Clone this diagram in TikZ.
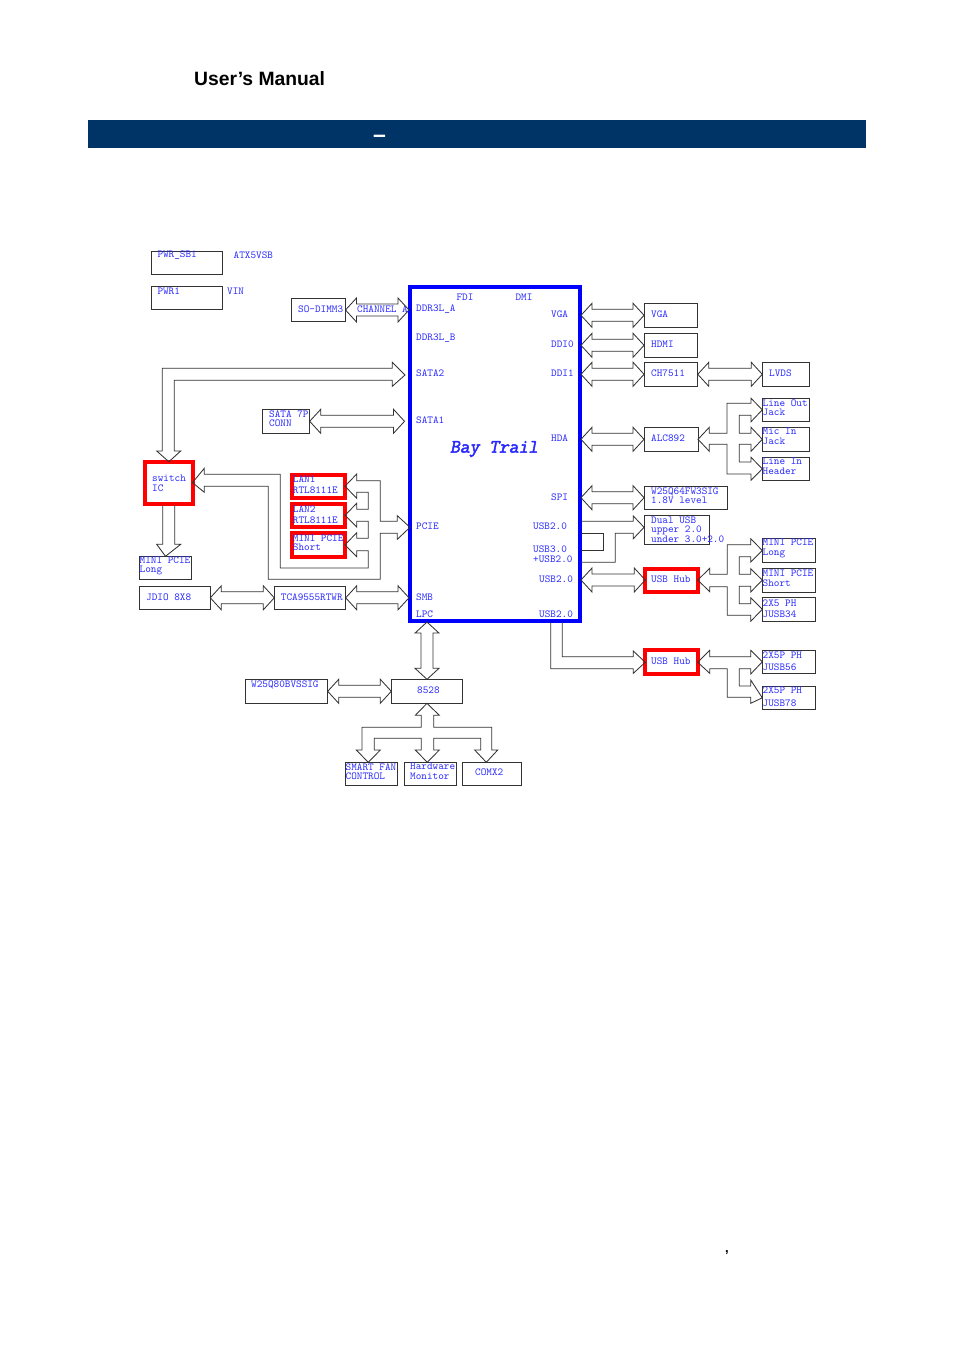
\documentclass[tikz,border=0pt]{standalone}
\usepackage{fontspec}
\usepackage{tikz}
\usetikzlibrary{calc}
\setmainfont{Liberation Sans}
\newfontfamily\bayfont[FakeBold=2.6,FakeSlant=0.2]{Latin Modern Mono}
\definecolor{band}{HTML}{003366}
\definecolor{schblue}{HTML}{2A2AFF}
\definecolor{schred}{HTML}{FF0000}
\tikzset{
  blk/.style={draw=black!80, line width=.85pt, inner sep=0, outer sep=0},
  redblk/.style={draw=schred, line width=4pt, inner sep=0, outer sep=0},
  chipblk/.style={draw=blue, line width=4pt, inner sep=0, outer sep=1pt},
  txt/.style={anchor=west, inner sep=0, align=left, text=schblue, font=\ttfamily\fontsize{10.7}{9.5}\selectfont},
  fat/.style={draw=black!80, line width=.85pt, line join=miter}
}
% fat two way arrows
\newcommand{\fatx}[2]{\draw[fat] (#1) -- ++(11,-12) -- ++(0,6) -- ($(#2)+(-11,-6)$) -- ++(0,-6) -- (#2) -- ++(-11,12) -- ++(0,-6) -- ($(#1)+(11,6)$) -- ++(0,6) -- cycle;}
\newcommand{\faty}[2]{\draw[fat] (#1) -- ++(12,11) -- ++(-6,0) -- ($(#2)+(6,-11)$) -- ++(6,0) -- (#2) -- ++(-12,-11) -- ++(6,0) -- ($(#1)+(-6,11)$) -- ++(-6,0) -- cycle;}
\begin{document}
\begin{tikzpicture}[x=1pt,y=-1pt]
\useasboundingbox (0,0) rectangle (954,1350);
% page head
\node[anchor=west, inner sep=0, font=\fontsize{19.3}{22}\selectfont\bfseries] (manual) at (194,79) {User’s Manual};
\node[fill=band, inner sep=0, outer sep=0, minimum width=778, minimum height=28] (title) at (477,134) {};
\node[inner sep=0, text=white, font=\fontsize{23}{23}\selectfont\bfseries] (titledash) at (379.5,139) {–};
\node[inner sep=0, font=\fontsize{13}{13}\selectfont\bfseries] (pagemark) at (727,1253) {,};
% chip
\node[chipblk, minimum width=170, minimum height=334.5] (chip) at (495,453.8) {};
\node[txt, anchor=center] (fdi) at (465,297) {FDI};
\node[txt, anchor=center] (dmi) at (524,297) {DMI};
\node[txt] (ddra) at (416,309) {DDR3L\_A};
\node[txt] (ddrb) at (416,338) {DDR3L\_B};
\node[txt] (sata2) at (416,373) {SATA2};
\node[txt] (sata1) at (416,420) {SATA1};
\node[txt] (pcie) at (416,526) {PCIE};
\node[txt] (smb) at (416,597) {SMB};
\node[txt] (lpc) at (416,614) {LPC};
\node[txt] (pinvga) at (551,314) {VGA};
\node[txt] (pinddia) at (551,344) {DDI0};
\node[txt] (pinddib) at (551,373) {DDI1};
\node[txt] (pinhda) at (551,438) {HDA};
\node[txt] (pinspi) at (551,497) {SPI};
\node[txt] (pinusba) at (533,526) {USB2.0};
\node[txt] (pinusbb) at (533,549) {USB3.0};
\node[txt] (pinusbc) at (533,559) {+USB2.0};
\node[txt] (pinusbd) at (539,579) {USB2.0};
\node[txt] (pinusbe) at (539,614) {USB2.0};
\node[txt, anchor=center, font=\bayfont\fontsize{19}{19}\selectfont] (baytrail) at (494,449) {Bay Trail};
% left side
\node[blk, minimum width=71, minimum height=23] (pwrsb) at (186.5,262.5) {};
\node[txt] (pwrsbt) at (157.3,255) {PWR\_SB1};
\node[txt] (atx) at (233.5,255) {ATX5VSB};
\node[blk, minimum width=71, minimum height=23] (pwr) at (186.5,297.5) {};
\node[txt] (pwrt) at (157.3,291) {PWR1};
\node[txt] (vin) at (227,291) {VIN};
\node[blk, minimum width=54, minimum height=23] (sodimm) at (318.5,310) {};
\node[txt] (sodimmt) at (298,309) {SO-DIMM3};
\node[txt] (channel) at (357,309) {CHANNEL A};
\node[blk, minimum width=47.4, minimum height=24] (satacon) at (286,421.3) {};
\node[txt] (sataconT) at (269,418.5) {SATA 7P\\CONN};
\node[redblk, minimum width=47.2, minimum height=41.8] (switch) at (168.9,482.6) {};
\node[txt] (switcht) at (152,483.5) {switch\\IC};
\node[blk, minimum width=52.4, minimum height=23] (mlongl) at (165.5,567.8) {};
\node[txt] (mlonglt) at (139.5,566) {MINI PCIE\\Long};
\node[blk, minimum width=71, minimum height=23] (jdio) at (174.8,597.8) {};
\node[txt] (jdiot) at (146,597) {JDIO 8X8};
\node[blk, minimum width=71.4, minimum height=23] (tca) at (310,597.8) {};
\node[txt] (tcat) at (280.7,597) {TCA9555RTWR};
\node[redblk, minimum width=53, minimum height=23.3] (lana) at (318.5,486.2) {};
\node[txt] (lanat) at (292.7,484.5) {LAN1\\[1.5pt]RTL8111E};
\node[redblk, minimum width=53, minimum height=23] (lanb) at (318.5,515.3) {};
\node[txt] (lanbt) at (292.7,514.5) {LAN2\\[1.5pt]RTL8111E};
\node[redblk, minimum width=53, minimum height=23.7] (mshortl) at (318.5,544.9) {};
\node[txt] (mshortlt) at (292.7,542.5) {MINI PCIE\\Short};
% bottom
\node[blk, minimum width=82.4, minimum height=24] (flash) at (286.5,691.3) {};
\node[txt] (flasht) at (251,685) {W25Q80BVSSIG};
\node[blk, minimum width=71.4, minimum height=24] (sio) at (427,691.3) {};
\node[txt] (siot) at (417,690) {8528};
\node[blk, minimum width=52.4, minimum height=23] (fan) at (371.5,773.8) {};
\node[txt] (fant) at (345.5,771.5) {SMART FAN\\CONTROL};
\node[blk, minimum width=52.4, minimum height=23] (hwmon) at (430.5,773.8) {};
\node[txt] (hwmont) at (410,771.5) {Hardware\\Monitor};
\node[blk, minimum width=59, minimum height=23] (comx) at (491.8,773.8) {};
\node[txt] (comxt) at (475,772.6) {COMX2};
% right side
\node[blk, minimum width=53.7, minimum height=24] (vga) at (670.9,315.3) {};
\node[txt] (vgat) at (651,314) {VGA};
\node[blk, minimum width=53.7, minimum height=24] (hdmi) at (670.9,345.3) {};
\node[txt] (hdmit) at (651,344) {HDMI};
\node[blk, minimum width=53.7, minimum height=24] (ch) at (670.9,374.3) {};
\node[txt] (cht) at (651,373) {CH7511};
\node[blk, minimum width=47, minimum height=24] (lvds) at (785.8,374.3) {};
\node[txt] (lvdst) at (769,373) {LVDS};
\node[blk, minimum width=54, minimum height=24] (alc) at (671,439.3) {};
\node[txt] (alct) at (651,438) {ALC892};
\node[blk, minimum width=47, minimum height=23] (lineout) at (785.8,409.8) {};
\node[txt] (lineoutt) at (762.5,407.5) {Line Out\\Jack};
\node[blk, minimum width=47, minimum height=24] (micin) at (785.8,439.3) {};
\node[txt] (micint) at (762.5,436.5) {Mic In\\Jack};
\node[blk, minimum width=47, minimum height=23] (linein) at (785.8,468.8) {};
\node[txt] (lineint) at (762.5,466.2) {Line In\\Header};
\node[blk, minimum width=83.3, minimum height=23.3] (spiflash) at (685.7,497.7) {};
\node[txt] (spiflasht) at (651,495.5) {W25Q64FW3SIG\\1.8V level};
\node[blk, minimum width=65.7, minimum height=29] (dual) at (676.9,529.8) {};
\node[txt] (dualt) at (651,529.5) {Dual USB\\upper 2.0\\under 3.0+2.0};
\node[redblk, minimum width=52.5, minimum height=23] (huba) at (671.5,580) {};
\node[txt] (hubat) at (651,579) {USB Hub};
\node[redblk, minimum width=52.5, minimum height=24] (hubb) at (671.5,662.3) {};
\node[txt] (hubbt) at (651,661) {USB Hub};
\node[blk, minimum width=53.4, minimum height=23.6] (mlong) at (789,550.5) {};
\node[txt] (mlongt) at (762.5,548.5) {MINI PCIE\\Long};
\node[blk, minimum width=53.4, minimum height=23.7] (mshort) at (789,580.1) {};
\node[txt] (mshortt) at (762.5,578) {MINI PCIE\\Short};
\node[blk, minimum width=53.4, minimum height=24] (jusba) at (789,609.3) {};
\node[txt] (jusbat) at (762.5,608.5) {2X5 PH\\[1.5pt]JUSB34};
\node[blk, minimum width=53.4, minimum height=23] (jusbb) at (789,661.8) {};
\node[txt] (jusbbt) at (762.5,661) {2X5P PH\\[2.5pt]JUSB56};
\node[blk, minimum width=53.4, minimum height=23] (jusbc) at (789,697.8) {};
\node[txt] (jusbct) at (762.5,696.5) {2X5P PH\\[3.5pt]JUSB78};
% straight arrows
\coordinate (satapin) at (404.5,421.3);
\fatx{sodimm.east}{chip.west |- sodimm.east}
\fatx{satacon.east}{satapin}
\fatx{jdio.east}{tca.west}
\fatx{tca.east}{chip.west |- tca.east}
\fatx{flash.east}{sio.west}
\fatx{chip.east |- vga.west}{vga.west}
\fatx{chip.east |- hdmi.west}{hdmi.west}
\fatx{chip.east |- ch.west}{ch.west}
\fatx{ch.east}{lvds.west}
\fatx{chip.east |- alc.west}{alc.west}
\fatx{chip.east |- spiflash.west}{spiflash.west}
\fatx{chip.east |- huba.west}{huba.west}
\faty{chip.south -| sio.north}{sio.north}
% bent arrows
\draw[fat] (switch.north) -- (156.7,451) -- (162.3,451) -- (162.3,368.3) -- (392.3,368.3) -- (392.3,362.3) -- (405,375) -- (392.3,386.3) -- (392.3,380.3) -- (174.3,380.3) -- (174.3,451) -- (180.7,451) -- cycle;
\draw[fat] (162.7,505) -- (162.7,544.3) -- (156.7,544.3) -- (mlongl.north) -- (180.7,544.3) -- (174.7,544.3) -- (174.7,505);
\draw[fat] (410,527.3) -- (397.3,515.7) -- (397.3,521.3) -- (380.3,521.3) -- (380.3,480.7) -- (356.7,480.7) -- (356.7,474) -- (lana.east) -- (356.7,498.3) -- (356.7,492.3) -- (368.3,492.3) -- (368.3,509.3) -- (356.7,509.3) -- (356.7,503.3) -- (lanb.east) -- (356.7,527) -- (356.7,521.3) -- (368.3,521.3) -- (368.3,538.3) -- (356.7,538.3) -- (356.7,532.7) -- (mshortl.east) -- (356.7,556.7) -- (356.7,550.7) -- (368.3,550.7) -- (368.3,568) -- (280.3,568) -- (280.3,474.3) -- (204.3,474.3) -- (204.3,468.3) -- (switch.east) -- (204.3,492.3) -- (204.3,486.3) -- (268.3,486.3) -- (268.3,579.3) -- (380.3,579.3) -- (380.3,533.3) -- (397.3,533.3) -- (397.3,539.3) -- cycle;
\draw[fat] (alc.east) -- (709.3,427.3) -- (709.3,433.3) -- (727,433.3) -- (727,403.3) -- (751,403.3) -- (751,398.3) -- (lineout.west) -- (751,421.7) -- (751,415.3) -- (739.3,415.3) -- (739.3,433.3) -- (751,433.3) -- (751,427.3) -- (micin.west) -- (751,451.3) -- (751,444.3) -- (739.3,444.3) -- (739.3,462) -- (751,462) -- (751,457.3) -- (linein.west) -- (751,480.3) -- (751,474) -- (727,474) -- (727,444.3) -- (709.3,444.3) -- (709.3,451.3) -- cycle;
\draw[fat] (chip.east |- 0,521.3) -- (633.3,521.3) -- (633.3,516) -- (dual.west |- 0,527.3) -- (633.3,538.7) -- (633.3,533.3) -- (615.3,533.3) -- (615.3,562.3) -- (chip.east |- 0,562.3);
\draw[fat] (chip.east |- 0,533.3) -- (603.3,533.3) -- (603.3,550.3) -- (chip.east |- 0,550.3);
\draw[fat] (huba.east) -- (709.7,568.3) -- (709.7,574.3) -- (727.3,574.3) -- (727.3,544.7) -- (750.7,544.7) -- (750.7,538.7) -- (mlong.west) -- (750.7,562) -- (750.7,556.7) -- (739.3,556.7) -- (739.3,574.3) -- (750.7,574.3) -- (750.7,568.7) -- (mshort.west) -- (750.7,592) -- (750.7,586.3) -- (739.3,586.3) -- (739.3,603.7) -- (750.7,603.7) -- (750.7,597.7) -- (jusba.west) -- (750.7,621.3) -- (750.7,615.3) -- (727.3,615.3) -- (727.3,586.7) -- (709.7,586.7) -- (709.7,591.7) -- cycle;
\draw[fat] (562.3,0 |- chip.south) -- (562.3,656.7) -- (633.3,656.7) -- (633.3,651) -- (hubb.west) -- (633.3,673.3) -- (633.3,668.7) -- (550.7,668.7) -- (550.7,0 |- chip.south);
\draw[fat] (hubb.east) -- (709.7,650.3) -- (709.7,656.7) -- (750.7,656.7) -- (750.7,650.3) -- (jusbb.west) -- (750.7,674) -- (750.7,668.7) -- (739.3,668.7) -- (739.3,686) -- (750.7,686) -- (750.7,680) -- (jusbc.west) -- (750.7,703.3) -- (750.7,697.3) -- (727.3,697.3) -- (727.3,668.7) -- (709.7,668.7) -- (709.7,673.3) -- cycle;
\draw[fat] (sio.south) -- (415.3,715.3) -- (421.3,715.3) -- (421.3,727.3) -- (362,727.3) -- (362,750) -- (356.3,750) -- (368.3,762.3) -- (380.3,750) -- (374.3,750) -- (374.3,738.3) -- (421.3,738.3) -- (421.3,750) -- (415.3,750) -- (427.3,762.3) -- (439.3,750) -- (433.7,750) -- (433.7,738.3) -- (480.7,738.3) -- (480.7,750) -- (474.7,750) -- (486.3,762.3) -- (497.7,750) -- (491.7,750) -- (491.7,727.3) -- (433.7,727.3) -- (433.7,715.3) -- (439.3,715.3) -- cycle;
\end{tikzpicture}
\end{document}
